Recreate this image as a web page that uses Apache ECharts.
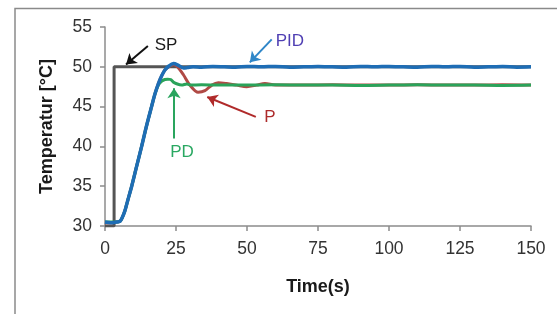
<!DOCTYPE html>
<html>
<head>
<meta charset="utf-8">
<script src="https://cdn.jsdelivr.net/npm/echarts@6/dist/echarts.min.js"></script>
<style>
  html, body { margin: 0; padding: 0; background: #fff; }
  #chart { width: 557px; height: 314px; }
</style>
</head>
<body>
<div id="chart"></div>
<script>
// set point
var spTime = [0, 3.2, 3.2, 150];
var spTemp = [30, 30, 50, 50];

// PID response
var pidTime = [0, 2, 4, 5.3, 6, 7, 8, 9.4, 11, 12.9, 14.5, 16.4, 17.6, 18.8, 20, 21.1, 22.5, 24.1, 25.5, 27.6, 29, 31, 34, 38, 42, 46, 50, 55, 60, 65, 70, 75, 80, 85, 90, 95, 100, 105, 110, 115, 120, 125, 130, 135, 140, 145, 150];
var pidTemp = [30.5, 30.4, 30.5, 30.6, 31.0, 31.9, 33.2, 35.0, 37.3, 40.0, 42.4, 45.0, 46.6, 47.9, 48.9, 49.6, 50.1, 50.4, 50.25, 49.85, 49.9, 50.0, 49.95, 50.05, 50.0, 49.95, 50.05, 50.0, 50.05, 49.95, 50.0, 50.05, 50.0, 49.95, 50.05, 50.0, 50.05, 50.0, 49.95, 50.05, 50.0, 50.05, 49.95, 50.0, 50.05, 49.95, 50.0];

// P response
var pTime = [0, 2, 4, 5.3, 6, 7, 8, 9.4, 11, 12.9, 14.5, 16.4, 17.6, 18.8, 20, 21.1, 22.5, 24.1, 25.5, 27.6, 29.9, 32.8, 35.2, 37.6, 39.9, 42.8, 46.4, 49.9, 53.4, 56.3, 60, 70, 80, 90, 100, 110, 120, 130, 140, 150];
var pTemp = [30.4, 30.4, 30.5, 30.6, 31.0, 31.9, 33.2, 35.0, 37.3, 40.0, 42.4, 45.0, 46.6, 47.9, 48.9, 49.6, 50.0, 50.3, 50.0, 49.0, 47.7, 46.8, 47.0, 47.7, 48.0, 47.9, 47.7, 47.5, 47.7, 47.9, 47.7, 47.7, 47.75, 47.7, 47.7, 47.75, 47.7, 47.7, 47.75, 47.7];

// PD response
var pdTime = [0, 2, 4, 5.3, 6, 7, 8, 9.4, 11, 12.9, 14.5, 16.4, 17.6, 18.8, 20, 21.1, 22.1, 23.1, 24, 25, 27, 28.8, 30, 34, 40, 50, 60, 70, 80, 90, 100, 110, 120, 130, 140, 150];
var pdTemp = [30.5, 30.5, 30.5, 30.6, 31.0, 31.9, 33.2, 35.0, 37.3, 40.0, 42.4, 45.0, 46.6, 47.7, 48.2, 48.4, 48.45, 48.4, 48.1, 47.9, 47.7, 47.85, 47.7, 47.75, 47.7, 47.7, 47.75, 47.7, 47.7, 47.65, 47.7, 47.75, 47.7, 47.7, 47.65, 47.7];

var xTicks = [0, 25, 50, 75, 100, 125, 150];
var yTicks = [30, 35, 40, 45, 50, 55];

// annotation texts and arrows (data coordinates)
var noteNames = ['SP', 'PID', 'P', 'PD'];
var notePos = [[21.5, 52.7], [65.1, 53.2], [58.1, 43.7], [27.1, 39.2]];
var noteColors = ['#1a1a1a', '#4f3fb3', '#ad2b2b', '#2aa862'];
var arrowFrom = [[15.1, 52.6], [58.7, 53.45], [53.1, 43.7], [24.3, 41.0]];
var arrowTo = [[7.4, 50.3], [51.0, 50.56], [36.0, 46.2], [24.3, 47.3]];
var arrowColors = ['#111111', '#2f86c8', '#b02a2a', '#2aa55e'];

function pairs(t, v) {
  return t.map(function (x, i) { return [x, v[i]]; });
}

var chart = echarts.init(document.getElementById('chart'));

var axisStyle = { lineStyle: { color: '#8c8c8c', width: 1.5 } };

var option = {
  animation: false,
  backgroundColor: '#fff',
  grid: { left: 105, right: 26, top: 27, bottom: 88 },
  graphic: [{
    type: 'rect',
    shape: { x: 15, y: 8.5, width: 700, height: 400 },
    style: { fill: 'none', stroke: '#8a8a8a', lineWidth: 1.5 },
    silent: true
  }],
  xAxis: {
    type: 'value',
    min: xTicks[0],
    max: xTicks[xTicks.length - 1],
    interval: 25,
    name: 'Time(s)',
    nameLocation: 'middle',
    nameGap: 52,
    nameTextStyle: { fontFamily: 'Liberation Sans', fontWeight: 'bold', fontSize: 18, color: '#1a1a1a' },
    axisLine: axisStyle,
    axisTick: { show: true, length: 5, lineStyle: { color: '#8c8c8c', width: 1.5 } },
    axisLabel: { margin: 14, fontFamily: 'Liberation Sans', fontSize: 17.5, color: '#333' },
    splitLine: { show: false }
  },
  yAxis: {
    type: 'value',
    min: yTicks[0],
    max: yTicks[yTicks.length - 1],
    interval: 5,
    name: 'Temperatur [°C]',
    nameLocation: 'middle',
    nameGap: 49,
    nameTextStyle: { fontFamily: 'Liberation Sans', fontWeight: 'bold', fontSize: 18, color: '#1a1a1a' },
    axisLine: { show: true, lineStyle: { color: '#8c8c8c', width: 1.5 } },
    axisTick: { show: true, length: 5, lineStyle: { color: '#8c8c8c', width: 1.5 } },
    axisLabel: { margin: 13, fontFamily: 'Liberation Sans', fontSize: 17.5, color: '#333' },
    splitLine: { show: false }
  },
  series: [
    {
      name: 'SP', type: 'line', showSymbol: false, data: pairs(spTime, spTemp),
      lineStyle: { color: '#555555', width: 3 }, z: 2
    },
    {
      name: 'P', type: 'line', showSymbol: false, smooth: 0.3, data: pairs(pTime, pTemp),
      lineStyle: { color: '#b04a45', width: 3 }, z: 3
    },
    {
      name: 'PD', type: 'line', showSymbol: false, smooth: 0.3, data: pairs(pdTime, pdTemp),
      lineStyle: { color: '#2aa35a', width: 3 }, z: 4
    },
    {
      name: 'PID', type: 'line', showSymbol: false, smooth: 0.3, data: pairs(pidTime, pidTemp),
      lineStyle: { color: '#1e6db5', width: 3.5 }, z: 5
    },
    {
      name: 'notes', type: 'scatter', symbolSize: 2, z: 6,
      itemStyle: { color: 'rgba(0,0,0,0)', opacity: 1 },
      data: noteNames.map(function (n, i) {
        return {
          name: n, value: notePos[i],
          label: { show: true, position: 'inside', formatter: n, color: noteColors[i],
                   fontFamily: 'Liberation Sans', fontSize: 17, opacity: 1 }
        };
      }),
      markLine: {
        silent: true,
        symbol: ['none', 'arrow'],
        symbolSize: 10,
        label: { show: false },
        data: arrowFrom.map(function (p, i) {
          return [
            { coord: p, lineStyle: { color: arrowColors[i], width: 2, type: 'solid', opacity: 1 },
              itemStyle: { color: arrowColors[i] } },
            { coord: arrowTo[i] }
          ];
        })
      }
    }
  ]
};

chart.setOption(option);
</script>
</body>
</html>
